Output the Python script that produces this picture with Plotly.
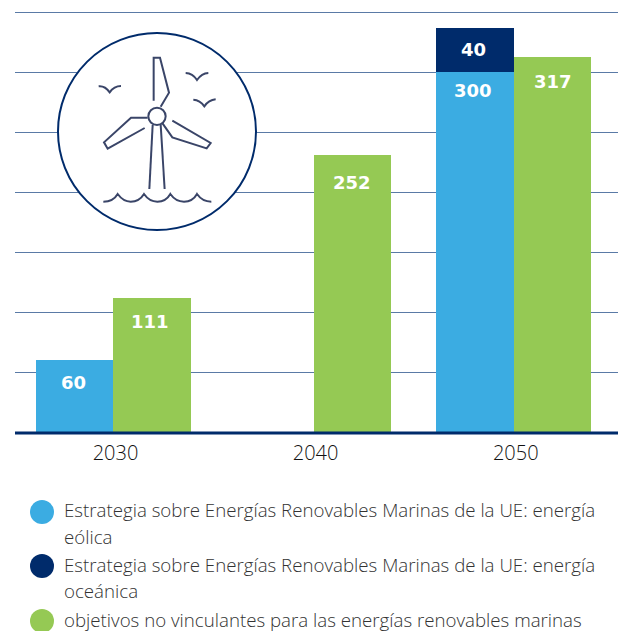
import plotly.graph_objects as go

# --- data ---
years = [2030, 2040, 2050]
wind_years = [2030, 2050]
wind_values = [61, 300]
ocean_years = [2050]
ocean_values = [37]
green_values = [112, 231, 313]
wind_labels = ["60", "300"]
ocean_labels = ["40"]
green_labels = ["111", "252", "317"]
y_ticks = [0, 50, 100, 150, 200, 250, 300, 350]
series_names = [
    ["Estrategia sobre Energías Renovables Marinas de la UE: energía", "eólica"],
    ["Estrategia sobre Energías Renovables Marinas de la UE: energía", "oceánica"],
    ["objetivos no vinculantes para las energías renovables marinas"],
]

BLUE, NAVY, GREEN = "#3bace2", "#002b6b", "#95c954"
ICON = "#3a4568"
W, H = 620, 631
L, R, T, B = 15, 2, 10, 198
BAR_W = 3.87
LABEL_FONT = dict(family="DejaVu Sans", size=18, color="white", weight="bold")
TEXT_FAMILY = "Open Sans"

fx = lambda px: (px - L) / (W - L - R)
fy = lambda py: (H - B - py) / (H - T - B)


def z2p(d):
    """Icon path given in zoomed pixel coordinates -> paper coordinates."""
    out = []
    for tok in d.split():
        if tok[0].isalpha():
            out.append(tok[0])
            tok = tok[1:]
            if not tok:
                continue
        a, b = tok.split(",")
        out.append(f"{fx(40 + float(a) / 3):.5f},{fy(20 + float(b) / 3):.5f}")
    return " ".join(out)


fig = go.Figure()
fig.add_bar(x=wind_years, y=wind_values, width=BAR_W, offset=-BAR_W, marker_color=BLUE,
            marker_line_width=0, name="eólica", showlegend=False)
fig.add_bar(x=ocean_years, y=ocean_values, base=[wind_values[-1]], width=BAR_W, offset=-BAR_W,
            marker_color=NAVY, marker_line_width=0, name="oceánica", showlegend=False)
fig.add_bar(x=years, y=green_values, width=BAR_W, offset=0, marker_color=GREEN,
            marker_line_width=0, name="objetivos", showlegend=False)

ann = []
def lab(x, y, t, shift, xs=0):
    ann.append(dict(x=x, y=y, xref="x", yref="y", text=t, showarrow=False, yshift=shift, xshift=xs,
                    xanchor="center", yanchor="middle", font=LABEL_FONT))

lab(wind_years[0] - BAR_W / 2, wind_values[0], wind_labels[0], -23, -1.5)
lab(wind_years[1] - BAR_W / 2, wind_values[1], wind_labels[1], -18, -2)
lab(ocean_years[0] - BAR_W / 2, wind_values[1] + ocean_values[0], ocean_labels[0], -22, -1.5)
for x, v, t, s, xs in zip(years, green_values, green_labels, [-23, -27, -25], [-2, 0, 1]):
    lab(x + BAR_W / 2, v, t, s, xs)

shapes = [
    dict(type="line", xref="paper", yref="paper", x0=0, x1=1, y0=0, y1=0,
         line=dict(color=NAVY, width=3), layer="above"),
    dict(type="circle", xref="paper", yref="paper", x0=fx(58), x1=fx(256), y0=fy(230), y1=fy(33),
         fillcolor="white", line=dict(color=NAVY, width=2), layer="above"),
]
icon_paths = [
    "M341,242 L341,113 L360,113 L387,218 L362,260",
    "M323,293 L273,293 L192,367 L203,386 L314,324",
    "M366,308 L397,352 L500,385 L512,369 L397,302",
    "M338,315 L328,507",
    "M362,315 L374,507",
    "M176,199 Q195,197 209,217 Q222,198 243,198",
    "M437,159 Q458,160 471,180 Q485,160 505,159",
    "M460,239 Q480,240 493,259 Q506,240 527,238",
    "M190,545 Q220,545 233,522 Q250,545 272,545 Q298,545 312,522 Q328,545 352,545 "
    "Q378,545 391,522 Q407,545 432,545 Q458,545 471,522 Q487,545 514,545",
]
for p in icon_paths:
    shapes.append(dict(type="path", xref="paper", yref="paper", path=z2p(p),
                       line=dict(color=ICON, width=2), layer="above"))
shapes.append(dict(type="circle", xref="paper", yref="paper",
                   x0=fx(40 + 325 / 3), x1=fx(40 + 377 / 3), y0=fy(20 + 315 / 3), y1=fy(20 + 263 / 3),
                   fillcolor="white", line=dict(color=ICON, width=2), layer="above"))

# hand-made legend
for py, col, lines in zip([512, 566, 621], [BLUE, NAVY, GREEN], series_names):
    shapes.append(dict(type="circle", xref="paper", yref="paper", x0=fx(30), x1=fx(54),
                       y0=fy(py + 12), y1=fy(py - 12), fillcolor=col, line_width=0))
    for i, line in enumerate(lines):
        ann.append(dict(x=fx(62), y=fy(py + i * 26 - 2), xref="paper", yref="paper", text=line,
                        showarrow=False, xanchor="left", yanchor="middle", align="left",
                        font=dict(family=TEXT_FAMILY, size=18.7, color="#333333", weight=300)))

fig.update_layout(
    width=W, height=H, margin=dict(l=L, r=R, t=T, b=B, pad=0),
    paper_bgcolor="white", plot_bgcolor="white", barmode="overlay", bargap=0,
    annotations=ann, shapes=shapes, showlegend=False,
    font=dict(family=TEXT_FAMILY),
    xaxis=dict(range=[2025.08, 2055.21], tickvals=years, ticktext=[str(y) for y in years],
               showgrid=False, zeroline=False, showline=False,
               ticks="", ticklabelshift=2, ticklabelstandoff=6,
               tickfont=dict(family=TEXT_FAMILY, size=20, color="#111111", weight=300)),
    yaxis=dict(range=[0, 351.66], tickvals=y_ticks, showticklabels=False, ticks="",
               showgrid=True, gridcolor="#5a7aa6", gridwidth=1, zeroline=False, showline=False),
)
fig.write_html("out.html", post_script="document.body.style.margin='0';",
               config=dict(displayModeBar=False))
